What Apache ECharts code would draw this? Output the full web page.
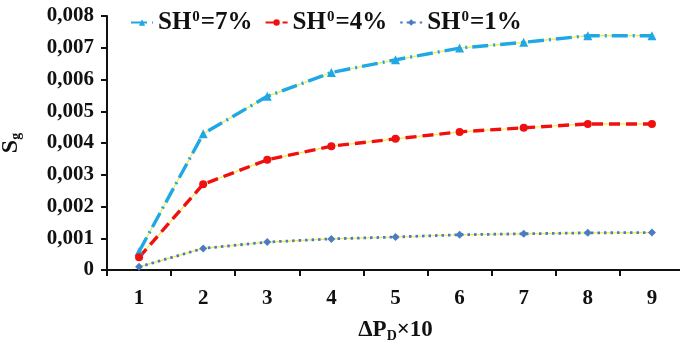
<!DOCTYPE html>
<html>
<head>
<meta charset="utf-8">
<script src="https://cdn.jsdelivr.net/npm/echarts@6/dist/echarts.min.js"></script>
<style>
  html, body { margin: 0; padding: 0; background: #fff; }
  #chart { width: 680px; height: 340px; }
</style>
</head>
<body>
<div id="chart"></div>
<script>
// Pressure-drop steps on the x axis
const categories = ['1', '2', '3', '4', '5', '6', '7', '8', '9'];
// Gas saturation for three initial hydrate saturations
const sh7 = [0.00058, 0.00429, 0.00547, 0.00622, 0.00662, 0.00699, 0.00717, 0.00738, 0.00738];
const sh4 = [0.00040, 0.00270, 0.00347, 0.00390, 0.00413, 0.00435, 0.00448, 0.00460, 0.00460];
const sh1 = [0.00010, 0.00068, 0.00088, 0.00098, 0.00104, 0.00111, 0.00114, 0.00117, 0.00118];
const seriesNames = ['SH0=7%', 'SH0=4%', 'SH0=1%'];
const yTicks = ['0', '0,001', '0,002', '0,003', '0,004', '0,005', '0,006', '0,007', '0,008'];

const serif = '"Liberation Serif", "DejaVu Serif", serif';
const chart = echarts.init(document.getElementById('chart'));

function guide(data) {
  // thin yellow trace drawn under each dashed curve
  return {
    type: 'line', data: data, symbol: 'none', silent: true, z: 1,
    lineStyle: { color: '#f2ec3a', width: 1.2, type: 'solid' }
  };
}

chart.setOption({
  animation: false,
  grid: { left: 107, right: -4, top: 16, bottom: 70, outerBoundsMode: 'none', containLabel: false },
  legend: {
    data: seriesNames,
    top: 5, left: 125,
    itemGap: 12, itemWidth: 22, itemHeight: 8,
    formatter: function (n) {
      const m = n.match(/^SH0(=.*)$/);
      return '{a|SH}{p|0}{a|' + m[1] + '}';
    },
    textStyle: {
      rich: {
        a: { fontFamily: serif, fontWeight: 'bold', fontSize: 25, color: '#111' },
        p: { fontFamily: serif, fontWeight: 'bold', fontSize: 15, color: '#111', verticalAlign: 'top', padding: [0, 1, 9, 1] }
      }
    }
  },
  xAxis: {
    type: 'category', data: categories, boundaryGap: true,
    name: '{a|ΔP}{s|D}{a|×10}', nameLocation: 'middle', nameGap: 48,
    nameTextStyle: {
      rich: {
        a: { fontFamily: serif, fontWeight: 'bold', fontSize: 23, color: '#111' },
        s: { fontFamily: serif, fontWeight: 'bold', fontSize: 14, color: '#111', verticalAlign: 'bottom', padding: [11, 0, 0, 0] }
      }
    },
    axisLine: { lineStyle: { color: '#111', width: 2 } },
    axisTick: { show: true, alignWithLabel: false, length: 6, lineStyle: { color: '#111', width: 2 } },
    axisLabel: { fontFamily: serif, fontWeight: 'bold', fontSize: 21, color: '#111', margin: 18 },
    splitLine: { show: false }
  },
  yAxis: {
    type: 'value', min: 0, max: 0.008, interval: 0.001,
    name: '{a|S}{s|g}', nameLocation: 'middle', nameGap: 84, nameRotate: 90,
    nameTextStyle: {
      rich: {
        a: { fontFamily: serif, fontWeight: 'bold', fontSize: 24, color: '#111' },
        s: { fontFamily: serif, fontWeight: 'bold', fontSize: 14, color: '#111', verticalAlign: 'bottom', padding: [10, 0, 0, 0] }
      }
    },
    axisLine: { show: true, lineStyle: { color: '#111', width: 2 } },
    axisTick: { show: true, length: 6, lineStyle: { color: '#111', width: 2 } },
    axisLabel: {
      fontFamily: serif, fontWeight: 'bold', fontSize: 21, color: '#111', margin: 13,
      formatter: function (v) { return yTicks[Math.round(v * 1000)]; }
    },
    splitLine: { show: false }
  },
  series: [
    guide(sh7), guide(sh4), guide(sh1),
    {
      name: seriesNames[0], type: 'line', data: sh7, z: 3,
      symbol: 'triangle', symbolSize: 9,
      itemStyle: { color: '#1fa8e4' },
      lineStyle: { color: '#1fa8e4', width: 3.4, type: [16, 5, 2, 5] }
    },
    {
      name: seriesNames[1], type: 'line', data: sh4, z: 3,
      symbol: 'circle', symbolSize: 8,
      itemStyle: { color: '#f01010' },
      lineStyle: { color: '#f01010', width: 3.4, type: [11, 6] }
    },
    {
      name: seriesNames[2], type: 'line', data: sh1, z: 3,
      symbol: 'diamond', symbolSize: 8,
      itemStyle: { color: '#4a7cc0' },
      lineStyle: { color: '#4a7cc0', width: 2.8, type: [2.5, 4] }
    }
  ]
});
</script>
</body>
</html>
